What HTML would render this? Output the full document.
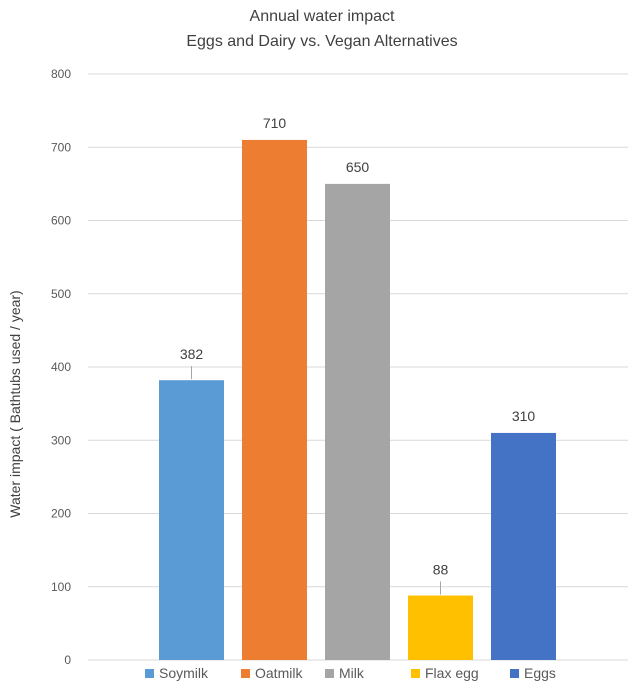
<!DOCTYPE html>
<html><head><meta charset="utf-8"><style>
body{margin:0;background:#fff;font-family:"Liberation Sans",sans-serif;}
svg text{font-family:"Liberation Sans",sans-serif;}
</style></head><body>
<svg width="644" height="691" viewBox="0 0 644 691">
<g id="grid"></g>
<g id="ylabels"></g>
<g id="bars"></g>
<g id="legend"></g>
<text x="322" y="21" text-anchor="middle" font-size="16" fill="#404040">Annual water impact</text>
<text x="322" y="46" text-anchor="middle" font-size="16" fill="#404040">Eggs and Dairy vs. Vegan Alternatives</text>
<text transform="translate(20,404) rotate(-90)" text-anchor="middle" font-size="14" fill="#404040">Water impact ( Bathtubs used / year)</text>
</svg>
<script>
const categories=["Soymilk","Oatmilk","Milk","Flax egg","Eggs"];
const values=[382,710,650,88,310];
const colors=["#5b9bd5","#ed7d31","#a5a5a5","#ffc000","#4472c4"];
const yTicks=[0,100,200,300,400,500,600,700,800];
const legendX=[145,241,325,411,510];
const NS="http://www.w3.org/2000/svg";
function y(v){return 660-v*(586/800);}
function x(i){return 159+i*83;}
function mk(t,a,p){const e=document.createElementNS(NS,t);for(const k in a)e.setAttribute(k,a[k]);p.appendChild(e);return e;}
const g=document.getElementById('grid'),yl=document.getElementById('ylabels'),b=document.getElementById('bars'),lg=document.getElementById('legend');
yTicks.forEach(t=>{
 const l=mk('line',{x1:88,x2:628,y1:y(t),y2:y(t),stroke:'#d9d9d9','stroke-width':1},g);
 
 
 const tx=mk('text',{x:71,y:y(t)+4,'text-anchor':'end','font-size':12,fill:'#595959'},yl);
 tx.textContent=t;
 
 
});
values.forEach((v,i)=>{
 const r=mk('rect',{x:x(i),y:y(v),width:65,height:660-y(v),fill:colors[i]},b);
 
 
 const lead=(i===0||i===3);
 const ly=lead?y(v)-21:y(v)-12;
 if(lead){const ln=mk('line',{x1:x(i)+32.5,x2:x(i)+32.5,y1:y(v)-1,y2:y(v)-14,stroke:'#a6a6a6'},b);
  
  }
 const t=mk('text',{x:x(i)+32.5,y:ly,'text-anchor':'middle','font-size':14,fill:'#404040'},b);
 t.textContent=v;
 
 
});
categories.forEach((c,i)=>{
 const s=mk('rect',{x:legendX[i],y:669,width:9,height:9,fill:colors[i]},lg);
 
 
 const t=mk('text',{x:legendX[i]+14,y:678,'font-size':14,fill:'#595959'},lg);
 t.textContent=c;
 
 
});
</script>
</body></html>
